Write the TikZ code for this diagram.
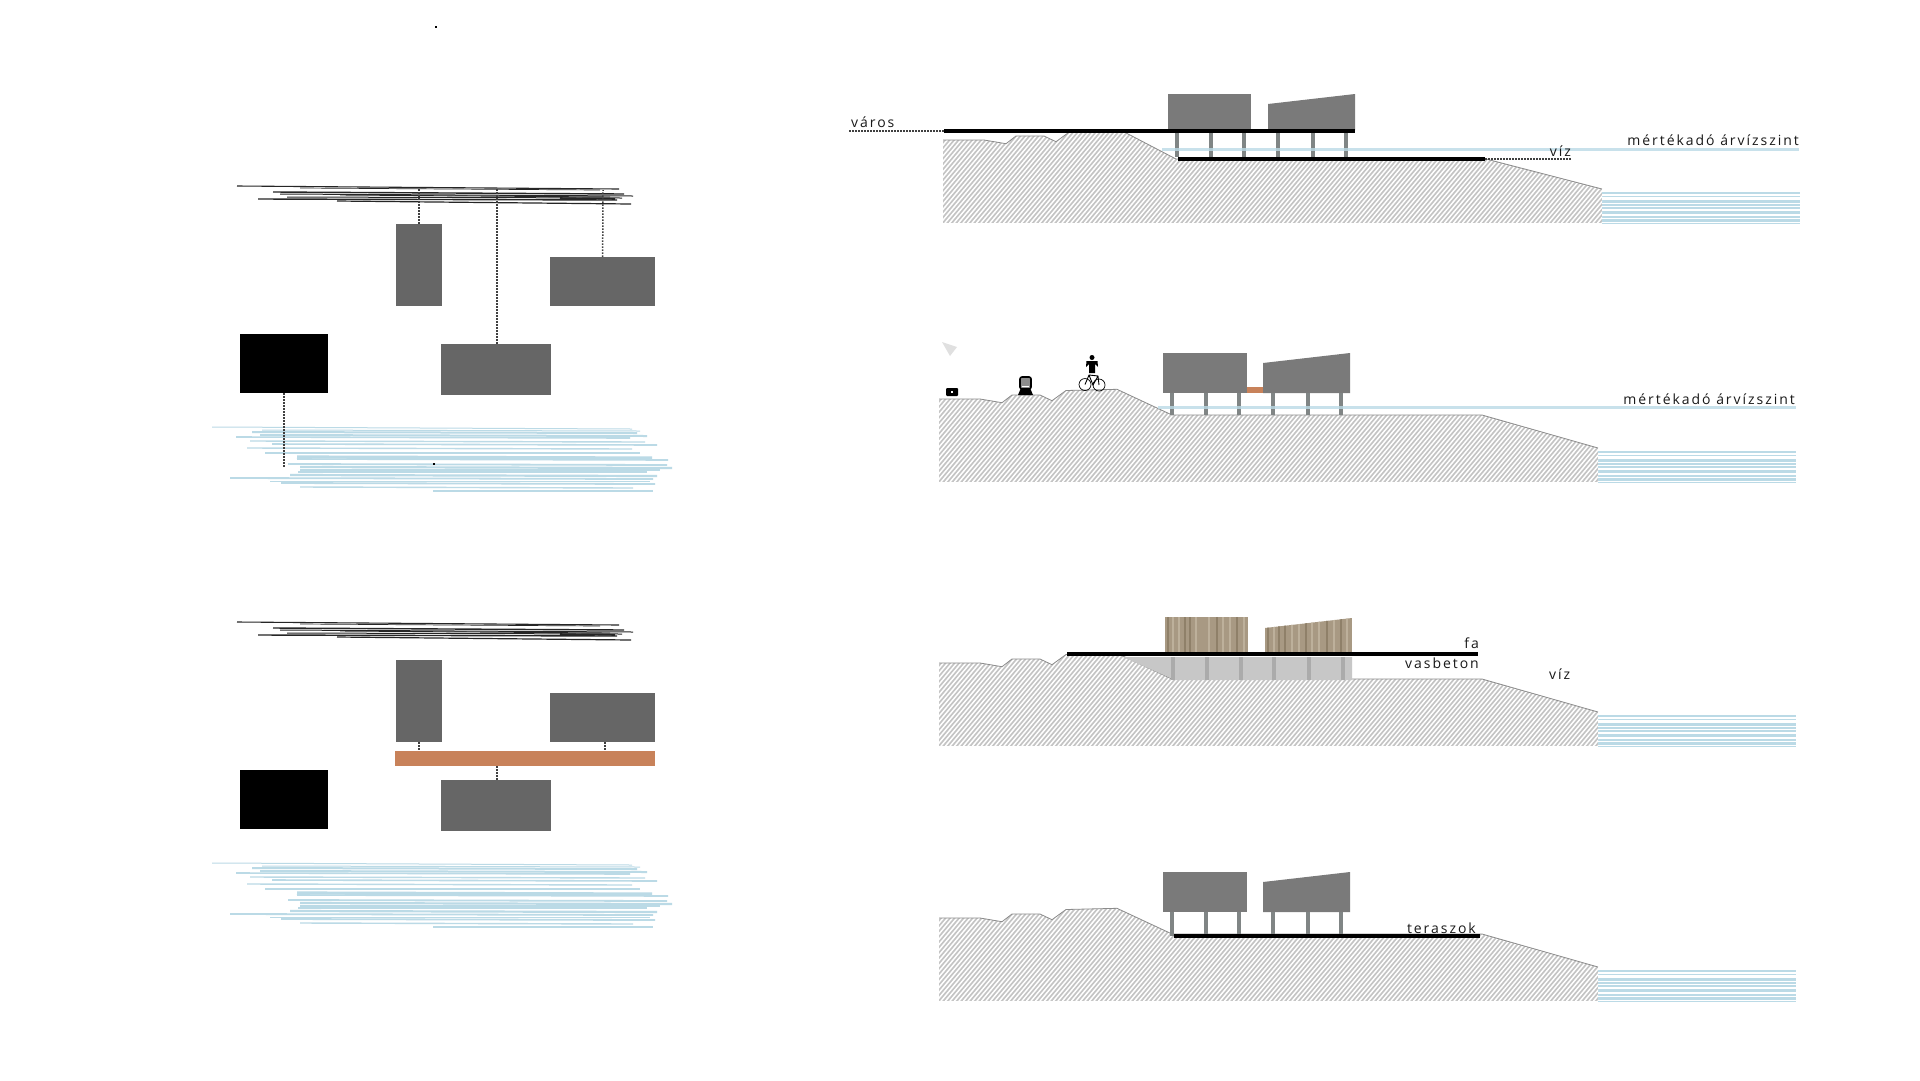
\documentclass[tikz,border=0pt]{standalone}
\usepackage{fontspec}
\setmainfont[LetterSpace=14]{Open Sans}
\definecolor{planGray}{HTML}{666666}
\definecolor{cutGray}{HTML}{7A7A7A}
\definecolor{pileGray}{HTML}{808585}
\definecolor{waterBlue}{HTML}{BBDAE6}
\definecolor{copper}{HTML}{C8825A}
\definecolor{earth}{HTML}{C4C4C4}
\definecolor{woodBase}{HTML}{A89983}
\definecolor{woodDark}{HTML}{8F8069}
\definecolor{woodLight}{HTML}{BDB09B}

\begin{document}
\begin{tikzpicture}[x=1pt,y=-1pt,
    mass/.style={fill=planGray, inner sep=0pt, draw=none},
    tie/.style={line width=1.5pt, dash pattern=on 1.5pt off 1.5pt, black!75},
    slab/.style={fill=black, inner sep=0pt, anchor=west, minimum height=4.5pt},
    cut/.style={fill=cutGray},
    pile/.style={draw=pileGray, line width=4.2pt},
    flood/.style={draw=waterBlue, line width=3pt, opacity=.8},
    caption/.style={inner sep=0pt, text=black!90, font=\fontsize{14}{16}\selectfont}]
   \useasboundingbox (0,0) rectangle (1920,1080);
   \fill[white] (0,0) rectangle (1920,1080);

   % sketched lines of the two plans
   \foreach \dy in {0,436} {
     \begin{scope}[shift={(0,\dy)}]
       \foreach \xa/\ya/\xb/\yb/\lw in {237/186/619/189/1.1, 273/192/624/194/1.4, 280/194/633/196/1, 258/199/617/200/1.4, 287/197/622/198/1, 337/201/631/204/1.2, 300/188/600/190/.7, 340/195/610/197/.9, 560/198/615/199/1.6}
         \draw[black!85, line width=\lw pt] (\xa,\ya) -- (\xb,\yb);
       \foreach \xa/\ya/\xb/\yb/\lw in {212/427/632/429/1, 252/432/637/433/2, 260/435/647/436/2, 236/437/630/438/1.6, 250/441/645/442/1.4, 272/444/657/445/1.6, 247/448/632/449/1.4, 265/453/640/453/1.4, 297/457/652/458/3.2, 297/459/668/460/1.6, 288/464/667/465/1.8, 300/467/672/468/2.2, 298/472/647/472/2.2, 290/475/657/476/2.2, 230/478/653/479/1.8, 281/483/655/484/1.8, 300/487/633/488/1.4, 433/491/653/491/1.4, 262/430/640/431/1, 300/470/660/470/1.2, 270/481/650/481/1}
         \draw[waterBlue, line width=\lw pt] (\xa,\ya) -- (\xb,\yb);
     \end{scope}
   }

   % upper plan
   \node[mass, minimum width=46pt, minimum height=82pt] (tallA) at (419,265) {};
   \node[mass, minimum width=105pt, minimum height=49pt] (wideA) at (602.5,281.5) {};
   \node[mass, minimum width=110pt, minimum height=51pt] (lowA) at (496,369.5) {};
   \node[mass, fill=black, minimum width=88pt, minimum height=59pt] (darkA) at (284,363.5) {};
   \coordinate (skyT) at (419,188);
   \coordinate (skyL) at (497,188);
   \coordinate (skyW) at (603,190);
   \coordinate (riverD) at (284,467);
   \draw[tie] (tallA) -- (skyT);
   \draw[tie] (lowA.north -| skyL) -- (skyL);
   \draw[tie] (wideA) -- (skyW);
   \draw[tie] (darkA) -- (riverD);
   \fill[black] (433,463) rectangle (434.5,465);
   \fill[black] (435,26) rectangle (436.5,28);

   % lower plan
   \node[mass, minimum width=46pt, minimum height=82pt] (tallB) at (419,701) {};
   \node[mass, minimum width=105pt, minimum height=49pt] (wideB) at (602.5,717.5) {};
   \node[mass, minimum width=110pt, minimum height=51pt] (lowB) at (496,805.5) {};
   \node[mass, fill=black, minimum width=88pt, minimum height=59pt] (darkB) at (284,799.5) {};
   \node[mass, fill=copper, minimum width=260pt, minimum height=15pt] (deckB) at (525,758.5) {};
   \draw[tie] (tallB.south) -- (tallB.south |- deckB.north);
   \draw[tie] (wideB.south -| 605,0) -- (605,751);
   \draw[tie] (deckB.south -| 497,0) -- (lowB.north -| 497,0);

   % ground and river of the four sections
   \foreach \dx/\dy/\fl in {4/-259/3, 0/0/0, 0/264/0, 0/519/0} {
     \begin{scope}[shift={(\dx,\dy)}]
       \foreach \ya/\lw in {451.7/2, 455.7/1.4, 460.7/2.8, 464/2.4, 467/1.6, 471.7/2.6, 475.7/1.8, 479.7/2.8, 482.5/1.8}
         \draw[waterBlue, line width=\lw pt] (1598,\ya) -- (1796,\ya);
       \begin{scope}
         \clip (939,399) -- (980,399) -- (1002,402.7) -- (1012,395) -- (1040,395) -- (1052,400.7) -- (1066,390.5) -- (1117,389.3) -- (1172,415+\fl) -- (1482,415+\fl) -- (1598,448) -- (1598,482) -- (939,482) -- cycle;
         \fill[earth] (939,385) rectangle (1598,482);
         \foreach \hx in {860,864.5,...,1600}
           \draw[white, line width=1.5pt] (\hx,482) -- (\hx+80,387);
       \end{scope}
       \draw[black!45, line width=.8pt] (939,399) -- (980,399) -- (1002,402.7) -- (1012,395) -- (1040,395) -- (1052,400.7) -- (1066,390.5) -- (1117,389.3) -- (1172,415+\fl) -- (1482,415+\fl) -- (1598,448);
     \end{scope}
   }

   % first section
   \fill[cut] (1168,94) rectangle (1251,130);
   \fill[cut] (1268,104) -- (1355,94) -- (1355,130) -- (1268,130) -- cycle;
   \foreach \px in {1177,1211,1244,1278,1313,1346}
     \draw[pile] (\px,133) -- (\px,157);
   \draw[flood] (1162,149) -- (1799,149);
   \node[slab, minimum width=411pt] (quayOne) at (944,131) {};
   \node[slab, minimum width=307pt, minimum height=4pt] (terraceOne) at (1178,159) {};
   \coordinate (townEnd) at (849,131);
   \coordinate (riverEnd) at (1572,159);
   \draw[tie] (townEnd) -- (quayOne);
   \draw[tie] (terraceOne) -- (riverEnd);
   \node[caption, anchor=base west] (townLabel) at (851,127) {város};
   \node[caption, anchor=base east] (floodOne) at (1799,145) {mértékadó árvízszint};
   \node[caption, anchor=base east] (riverOne) at (1571,156) {víz};

   % second section
   \fill[cut] (1163,353) rectangle (1247,393);
   \fill[cut] (1263,363) -- (1350,353) -- (1350,393) -- (1263,393) -- cycle;
   \fill[copper] (1247,387) rectangle (1263,392.5);
   \foreach \px in {1172,1206,1239,1273,1308,1341}
     \draw[pile] (\px,393) -- (\px,415);
   \draw[flood] (1158,407) -- (1796,407);
   \node[caption, anchor=base east] (floodTwo) at (1795,404) {mértékadó árvízszint};
   \fill[black!12] (942,342) -- (957,347) -- (950,356) -- cycle;
   \fill[black, rounded corners=1pt] (946,388) rectangle (958,396);
   \fill[white] (951,391) rectangle (953,393);
   \filldraw[fill=black!45, draw=black, line width=1.6pt, rounded corners=2pt] (1020,377) rectangle (1031,389);
   \fill[white] (1022,385.5) rectangle (1029,387);
   \fill[black] (1020.5,389) -- (1030.5,389) -- (1033,395) -- (1018,395) -- cycle;
   \fill[black] (1092,357.5) circle (2.5);
   \fill[black] (1086.5,361) -- (1097.5,361) -- (1098,367) -- (1095,364) -- (1095,373) -- (1089,373) -- (1089,364) -- (1086,367) -- cycle;
   \draw[black, line width=.7pt] (1085,384.5) circle (6);
   \draw[black, line width=.7pt] (1099,385) circle (6);
   \draw[black, line width=.9pt] (1085,384.5) -- (1089,375) -- (1098,376) -- (1099,385) (1089,375) -- (1093,385) -- (1098,376);

   % third section
   \fill[black!22] (1123,657) -- (1175,680) -- (1352,680) -- (1352,657) -- cycle;
   \foreach \px in {1173,1207,1241,1274,1309,1343}
     \fill[black!33] (\px-2,657) rectangle (\px+2,680);
   \begin{scope}
     \clip (1165,617) rectangle (1248,654);
     \fill[woodBase] (1165,617) rectangle (1248,654);
     \foreach \px/\pc in {1167/woodDark,1172/woodLight,1178/woodLight,1184/woodDark,1189/woodDark,1195/woodLight,1201/woodBase,1208/woodLight,1216/woodDark,1222/woodLight,1229/woodLight,1236/woodDark,1243/woodLight}
       \fill[\pc] (\px,617) rectangle (\px+2,654);
   \end{scope}
   \begin{scope}
     \clip (1265,628) -- (1352,618) -- (1352,654) -- (1265,654) -- cycle;
     \fill[woodBase] (1265,618) rectangle (1352,654);
     \foreach \px/\pc in {1267/woodDark,1273/woodLight,1278/woodDark,1284/woodDark,1291/woodLight,1298/woodLight,1305/woodDark,1311/woodLight,1318/woodLight,1326/woodDark,1333/woodLight,1340/woodDark,1346/woodLight}
       \fill[\pc] (\px,618) rectangle (\px+2,654);
   \end{scope}
   \node[slab, minimum width=411pt] (deckThree) at (1067,654) {};
   \node[caption, anchor=base east] (woodLabel) at (1479,648) {fa};
   \node[caption, anchor=base east] (concreteLabel) at (1479,668) {vasbeton};
   \node[caption, anchor=base west] (riverThree) at (1549,679) {víz};

   % fourth section
   \fill[cut] (1163,872) rectangle (1247,912);
   \fill[cut] (1263,882) -- (1350,872) -- (1350,912) -- (1263,912) -- cycle;
   \foreach \px in {1172,1206,1239,1273,1308,1341}
     \draw[pile] (\px,912) -- (\px,936);
   \node[slab, minimum width=306pt, minimum height=4pt] (terraceFour) at (1174,936) {};
   \node[caption, anchor=base east] (terraceLabel) at (1476,933) {teraszok};
\end{tikzpicture}
\end{document}
